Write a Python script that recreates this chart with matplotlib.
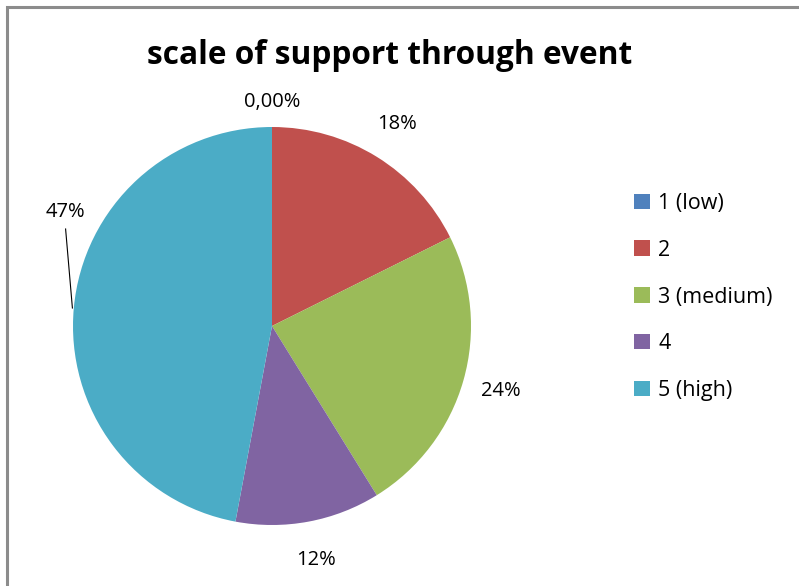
import numpy as np
import matplotlib.pyplot as plt
from matplotlib.patches import Patch, Rectangle

# data (counts)
categories = ['1 (low)', '2', '3 (medium)', '4', '5 (high)']
counts = [0, 3, 4, 2, 8]
pct_labels = ['0,00%', '18%', '24%', '12%', '47%']
colors = ['#4F81BD', '#C0504D', '#9BBB59', '#8064A2', '#4BACC6']

W, H = 799, 586
fig = plt.figure(figsize=(W / 100, H / 100), dpi=100)
fig.patch.set_facecolor('white')

# chart border (left + top visible)
fig.add_artist(Rectangle((7 / W, -0.05), 2.0, 1.05 - 7 / H, transform=fig.transFigure,
                         fill=False, edgecolor='#8c8c8c', linewidth=2.2))

lab_font = ['Open Sans', 'DejaVu Sans']

cx, cy, r = 272, 326, 200
ax = fig.add_axes([(cx - r) / W, (H - cy - r) / H, 2 * r / W, 2 * r / H])
wedges, _ = ax.pie(counts, colors=colors, startangle=90, counterclock=False,
                   radius=0.995, wedgeprops=dict(linewidth=0))
ax.set_xlim(-1, 1)
ax.set_ylim(-1, 1)
ax.set_aspect('equal')
ax.axis('off')

# data labels around the pie
for i, w in enumerate(wedges):
    ang = np.deg2rad((w.theta1 + w.theta2) / 2)
    rr = 1.12 if counts[i] == 0 else 1.19
    x, y = rr * np.cos(ang), rr * np.sin(ang)
    if i == 4:
        # label pushed up with a leader line, as in the source
        ax.plot([-1.032, -0.998], [0.485, 0.09], color='black', lw=0.8, clip_on=False)
        x, y = -1.035, 0.57
    ax.text(x, y, pct_labels[i], ha='center', va='center', fontsize=14.5,
            family=lab_font, clip_on=False)

fig.text(390 / W, 1 - 55 / H, 'scale of support through event', ha='center', va='center',
         fontsize=22.8, fontweight='bold', family=lab_font)

handles = [Patch(facecolor=c, edgecolor='none') for c in colors]
fig.legend(handles, categories, loc='center left', bbox_to_anchor=(615 / W, 1 - 297 / H),
           frameon=False, prop={'family': lab_font, 'size': 15.5},
           handlelength=0.72, handleheight=0.72, handletextpad=0.4, labelspacing=1.2)

fig.savefig('out.png', dpi=100)
